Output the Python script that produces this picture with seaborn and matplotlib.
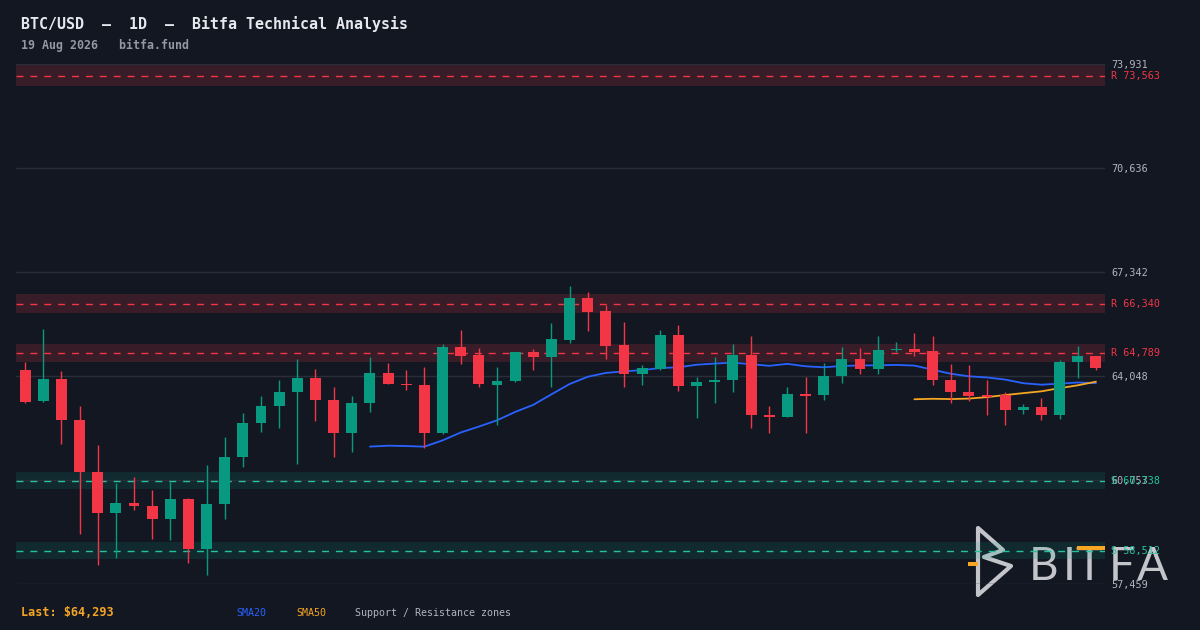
import numpy as np
import pandas as pd
import matplotlib
matplotlib.use('Agg')
import matplotlib.pyplot as plt
from matplotlib.patches import Polygon, Rectangle
from matplotlib.transforms import blended_transform_factory
import seaborn as sns

# --- data (60 daily candles) ---
opens = [64249, 63245, 63964, 62665, 61018, 59697, 60036, 59941, 59507, 60163,
         58557, 59982, 61471, 62548, 63086, 63530, 63995, 63298, 62231, 63181,
         64154, 63805, 63773, 62231, 64977, 64724, 63773, 63878, 64819, 64660,
         65208, 66529, 66117, 65040, 64100, 64280, 65357, 63720, 63846, 63910,
         64724, 62823, 62738, 63488, 63435, 64036, 64597, 64258, 64860, 64914,
         64850, 63932, 63552, 63435, 63435, 62959, 63054, 62801, 64480, 64692]
highs = [64502, 65547, 64217, 63108, 61873, 60670, 60859, 60448, 60701, 60195,
         61240, 62126, 62887, 63425, 63932, 64597, 64280, 63710, 63425, 64660,
         64470, 64249, 64344, 65072, 65515, 64945, 64344, 64819, 64914, 65737,
         66909, 66719, 66307, 65769, 64407, 65515, 65674, 64027, 64660, 65072,
         65325, 63108, 63710, 64027, 64470, 64977, 64945, 65325, 65135, 65420,
         65325, 64439, 64407, 63932, 63552, 63150, 63340, 64565, 65009, 64692]
lows = [63180, 63213, 61883, 59032, 58050, 58272, 59792, 58874, 58842, 58113,
        57747, 59507, 61154, 62263, 62389, 61249, 62611, 61471, 61629, 62896,
        63783, 63593, 61756, 62199, 64416, 63688, 62484, 63846, 64226, 63710,
        65113, 65493, 64606, 63688, 63751, 64226, 63561, 62706, 63181, 63530,
        62389, 62231, 62738, 62231, 63276, 63815, 64100, 64100, 64797, 64670,
        63751, 63181, 63245, 62801, 62484, 62833, 62643, 62674, 63973, 64226]
closes = [63213, 63964, 62643, 60996, 59697, 60036, 59919, 59507, 60163, 58557,
          60004, 61493, 62570, 63108, 63552, 63995, 63276, 62231, 63203, 64154,
          63783, 63751, 62231, 64977, 64692, 63783, 63900, 64819, 64660, 65230,
          66529, 66095, 65018, 64100, 64312, 65357, 63720, 63868, 63932, 64724,
          62801, 62738, 63488, 63425, 64059, 64597, 64258, 64882, 64914, 64819,
          63910, 63530, 63403, 63371, 62959, 63054, 62801, 64502, 64692, 64293]

resistance_levels = [73563, 66340, 64789]
support_levels = [60738, 58512]
y_range = (57459.0, 73930.7)

title = 'BTC/USD  \u2013  1D  \u2013  Bitfa Technical Analysis'
subtitle = '19 Aug 2026   bitfa.fund'

# --- colours ---
BG = '#131722'
UP = '#089981'
DOWN = '#f23645'
SUP = '#26c2a0'
BLUE = '#2962ff'
ORANGE = '#f5a623'
GRID = '#2a2e39'
TXT = '#b2b5be'

W, H = 1200, 630

sns.set_theme(style='dark', rc={'axes.facecolor': BG, 'figure.facecolor': BG})
plt.rcParams['font.family'] = ['DejaVu Sans Mono', 'DejaVu Sans']

df = pd.DataFrame({'open': opens, 'high': highs, 'low': lows, 'close': closes})
df['idx'] = np.arange(len(df))
df['sma20'] = df['close'].rolling(20).mean()
df['sma50'] = df['close'].rolling(50).mean()
up = df['close'] >= df['open']
colors = np.where(up, UP, DOWN)

fig = plt.figure(figsize=(W / 100, H / 100), dpi=100, facecolor=BG)
ax = fig.add_axes([16 / W, 1 - 584 / H, 1089 / W, (584 - 64.3) / H])
ax.set_facecolor('none')  # figure bg shows through, logo sits behind the plot
for s in ax.spines.values():
    s.set_visible(False)

# support / resistance zones
zone = 0.0045
for lvl in resistance_levels:
    ax.axhspan(lvl * (1 - zone), lvl * (1 + zone), color=DOWN, alpha=0.17, lw=0, zorder=0.5)
    ax.axhline(lvl, color=DOWN, lw=1, ls=(0, (5, 5)), zorder=1)
for lvl in support_levels:
    ax.axhspan(lvl * (1 - zone), lvl * (1 + zone), color=UP, alpha=0.15, lw=0, zorder=0.5)
    ax.axhline(lvl, color=SUP, lw=1, ls=(0, (5, 5)), zorder=1)

# moving averages (under the candles)
sns.lineplot(data=df.dropna(subset=['sma20']), x='idx', y='sma20', ax=ax,
             color=BLUE, lw=1.3, zorder=2)
sns.lineplot(data=df.dropna(subset=['sma50']), x='idx', y='sma50', ax=ax,
             color=ORANGE, lw=1.3, zorder=2)

# candles
ax.vlines(df['idx'], df['low'], df['high'], colors=colors, lw=1, zorder=3)
body_lo = df[['open', 'close']].min(axis=1)
body_h = np.maximum((df['close'] - df['open']).abs(), 45)
ax.bar(df['idx'], body_h, bottom=body_lo, width=0.6, color=colors, lw=0, zorder=4)

ax.set_xlim(-0.5, len(df) - 0.5)
ax.set_ylim(*y_range)
ax.set_xlabel('')
ax.set_ylabel('')
ax.set_xticks([])
ticks = np.linspace(y_range[0], y_range[1], 6)
ax.set_yticks(ticks)
ax.set_yticklabels([f'{t:,.0f}' for t in ticks], color=TXT, fontsize=7.3)
ax.yaxis.tick_right()
ax.tick_params(axis='y', length=0, pad=4.3)
ax.grid(axis='y', color=GRID, lw=1)
ax.grid(axis='x', visible=False)
ax.set_axisbelow(True)

# level labels on the right
tr = blended_transform_factory(ax.transAxes, ax.transData)
for lvl in resistance_levels:
    ax.text(1 + 6 / 1089, lvl, f'R {lvl:,}', transform=tr, color=DOWN,
            fontsize=7.3, va='center', ha='left', clip_on=False)
for lvl in support_levels:
    ax.text(1 + 6 / 1089, lvl, f'S {lvl:,}', transform=tr, color=SUP,
            fontsize=7.3, va='center', ha='left', clip_on=False)

# header
fig.text(21 / W, 1 - 24 / H, title, color='#e6e8ee', fontsize=10.8,
         weight='bold', va='center')
fig.text(21 / W, 1 - 45 / H, subtitle, color='#9598a1', fontsize=8.4,
         weight='bold', va='center')

# footer legend
fy = 1 - 613 / H
fig.text(21 / W, fy, f'Last: ${closes[-1]:,}', color=ORANGE, fontsize=8.5,
         weight='bold', va='center')
fig.text(236 / W, fy, 'SMA20', color=BLUE, fontsize=7.2, va='center')
fig.text(296 / W, fy, 'SMA50', color=ORANGE, fontsize=7.2, va='center')
fig.text(355 / W, fy, 'Support / Resistance zones', color=TXT, fontsize=7.2, va='center')


# watermark logo, drawn behind the plot
def px(x, y):
    return (x / W, 1 - y / H)


logo_col = '#d4d5da'
icon = [px(978, 528), px(1003, 550), px(984, 557), px(1011, 566), px(978, 595)]
fig.patches.append(Polygon(icon, closed=True, fill=False, ec=logo_col, lw=3.0,
                           joinstyle='round', alpha=0.92, transform=fig.transFigure,
                           zorder=-1))
for letter, lx in zip('BITFA', [1029, 1063, 1075, 1109, 1137]):
    fig.text(lx / W, 1 - 580 / H, letter, color=logo_col, fontsize=33,
             family='Lato', weight='normal', va='baseline', alpha=0.92, zorder=-1)
fig.patches.append(Rectangle(px(968, 566), 10 / W, 4 / H, fc=ORANGE, lw=0,
                             transform=fig.transFigure, zorder=5))
fig.patches.append(Rectangle(px(1077, 550), 28 / W, 4 / H, fc=ORANGE, lw=0,
                             transform=fig.transFigure, zorder=5))

fig.savefig('out.png', dpi=100, facecolor=BG)
